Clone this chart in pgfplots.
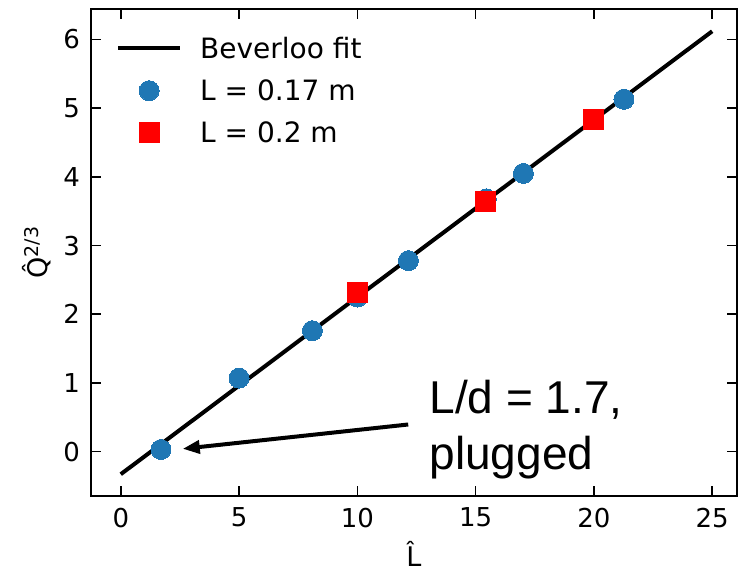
\documentclass[border=0pt]{standalone}
\usepackage{fontspec}
\setmainfont{DejaVu Sans}
\newfontfamily\arialfont{Liberation Sans}
\usepackage{pgfplots}
\pgfplotsset{compat=1.18}
\usetikzlibrary{arrows.meta}
\definecolor{mplblue}{RGB}{31,119,180}
\pgfplotsset{
  linelegend/.style={legend image code/.code={\draw[##1] (0pt,0pt) -- (62pt,0pt);}},
  marklegend/.style={legend image code/.code={\draw[##1] plot coordinates {(31pt,0pt)};}},
}
\begin{document}
\begin{tikzpicture}
\begin{axis}[
  scale only axis,
  width=646pt, height=486pt,
  xmin=-1.27, xmax=26.05,
  ymin=-0.64, ymax=6.44,
  xtick={0,5,10,15,20,25},
  ytick={0,1,2,3,4,5,6},
  tick align=inside,
  major tick length=10pt,
  every tick/.style={black, line width=1.6pt},
  axis line style={line width=2pt},
  /pgf/number format/assume math mode=true,
  tick label style={font=\fontsize{26}{30}\selectfont, inner sep=0pt},
  yticklabel style={xshift=-10.7pt},
  xticklabel style={yshift=-12pt},
  xlabel={\^{L}},
  ylabel={\^{Q}\textsuperscript{2/3}},
  label style={font=\fontsize{27}{32}\selectfont},
  xlabel style={at={(axis description cs:0.5,-0.146)}, anchor=base, inner sep=0pt},
  ylabel style={at={(axis description cs:-0.0676,0.5)}, anchor=base, inner sep=0pt},
  legend style={draw=none, fill=none, inner sep=0pt,
    at={(axis description cs:0.039,0.944)}, anchor=north west,
    font=\fontsize{28}{34}\selectfont,
    nodes={inner sep=0pt}, column sep=18pt, row sep=20pt},
  legend cell align=left,
]
\addplot[black, line width=4pt, linelegend]
  coordinates {(0,-0.33) (25,6.12)};
\addlegendentry{Beverloo fit}
\addplot[only marks, mark=*, mark size=10pt, color=mplblue,
  mark options={draw=mplblue, fill=mplblue, line width=0pt}, marklegend]
  coordinates {(1.70,0.03) (5.0,1.07) (8.10,1.76) (10.0,2.25) (12.16,2.78) (15.45,3.68) (17.02,4.05) (21.27,5.13)};
\addlegendentry{L = 0.17 m}
\addplot[only marks, mark=square*, mark size=10pt, color=red,
  mark options={draw=red, fill=red, line width=0pt}, marklegend]
  coordinates {(10.0,2.31) (15.40,3.64) (20.0,4.83)};
\addlegendentry{L = 0.2 m}
\draw[line width=4pt, -{Triangle[length=17pt, width=13pt]}] (axis cs:12.15,0.394) -- (axis cs:2.62,0.04);
\node[anchor=base west, inner sep=0pt, font=\arialfont\fontsize{46}{58}\selectfont] at (axis cs:13.04,0.558) {L/d = 1.7,};
\node[anchor=base west, inner sep=0pt, font=\arialfont\fontsize{46}{58}\selectfont] at (axis cs:13.04,-0.267) {plugged};
\end{axis}
\pgfresetboundingbox
\path[use as bounding box] ([shift={(-90.7pt,9.3pt)}]current axis.north west) rectangle ([shift={(1pt,-78pt)}]current axis.south east);
\end{tikzpicture}
\end{document}
